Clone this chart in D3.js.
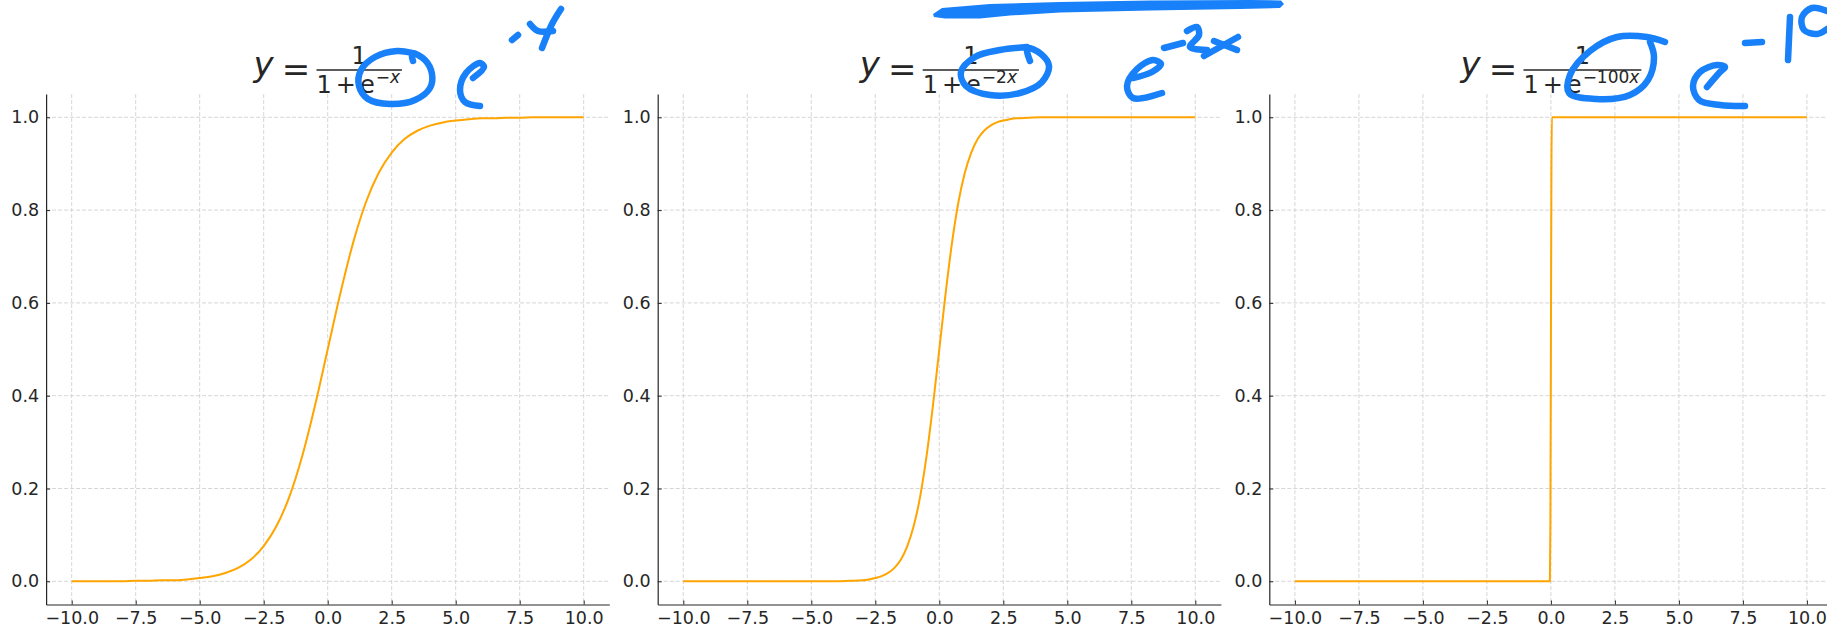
<!DOCTYPE html>
<html>
<head>
<meta charset="utf-8">
<script src="https://cdn.jsdelivr.net/npm/d3@7"></script>
<style>
  body { margin: 0; background: #fff; }
  text { font-family: "DejaVu Sans", sans-serif; }
</style>
</head>
<body>
<div id="chart"></div>
<script>
// points
var xA = [-10,-9.5,-9,-8.5,-8,-7.5,-7,-6.5,-6,-5.5,-5,-4.5,-4,-3.5,-3,-2.5,-2,-1.5,-1,-0.5,0,
          0.5,1,1.5,2,2.5,3,3.5,4,4.5,5,5.5,6,6.5,7,7.5,8,8.5,9,9.5,10];
var yA = [0,0,0,0,0,0.001,0.001,0.002,0.002,0.004,0.007,0.011,0.018,0.029,0.047,0.076,0.119,0.182,0.269,0.378,0.5,
          0.622,0.731,0.818,0.881,0.924,0.953,0.971,0.982,0.989,0.993,0.996,0.998,0.998,0.999,0.999,1,1,1,1,1];

var xB = [-10,-7,-5,-4,-3.5,-3,-2.75,-2.5,-2.25,-2,-1.75,-1.5,-1.25,-1,-0.75,-0.5,-0.25,0,
          0.25,0.5,0.75,1,1.25,1.5,1.75,2,2.25,2.5,2.75,3,3.5,4,5,7,10];
var yB = [0,0,0,0,0.001,0.002,0.004,0.007,0.011,0.018,0.029,0.047,0.076,0.119,0.182,0.269,0.378,0.5,
          0.622,0.731,0.818,0.881,0.924,0.953,0.971,0.982,0.989,0.993,0.996,0.998,0.999,1,1,1,1];

var xC = [-10,-0.04,-0.02,0,0.02,0.04,10];
var yC = [0,0,0.12,0.5,0.88,1,1];

// exponent coefficient shown in each title
var titleCoef = ["", "2", "100"];

var xTicks = [-10,-7.5,-5,-2.5,0,2.5,5,7.5,10];
var yTicks = [0,0.2,0.4,0.6,0.8,1.0];

var width = 1827, height = 630;
var plotTop = 94.1, plotBottom = 604.5;
var panelLeft = [46.1, 657.7, 1269.3], panelW = 563.2;
var lineColor = "#ffa500", inkColor = "#262626", gridColor = "#cccccc", penColor = "#1880f8";

var svg = d3.select("#chart")
  .append("svg")
    .attr("width", width)
    .attr("height", height)
    .style("display", "block");

svg.append("rect").attr("width", width).attr("height", height).attr("fill", "#fff");

var series = [[xA, yA], [xB, yB], [xC, yC]];

var y = d3.scaleLinear().domain([-0.05, 1.05]).range([plotBottom, plotTop]);

series.forEach(function(s, i) {
  var x = d3.scaleLinear().domain([-11, 11]).range([panelLeft[i], panelLeft[i] + panelW]);
  var g = svg.append("g");

  // grid
  g.selectAll(".vgrid")
    .data(xTicks)
    .enter().append("line")
      .attr("x1", function(d) { return x(d); })
      .attr("x2", function(d) { return x(d); })
      .attr("y1", plotTop)
      .attr("y2", plotBottom)
      .attr("stroke", gridColor)
      .attr("stroke-width", 0.8)
      .attr("stroke-dasharray", "4,2");
  g.selectAll(".hgrid")
    .data(yTicks)
    .enter().append("line")
      .attr("x1", panelLeft[i])
      .attr("x2", panelLeft[i] + panelW)
      .attr("y1", function(d) { return y(d); })
      .attr("y2", function(d) { return y(d); })
      .attr("stroke", gridColor)
      .attr("stroke-width", 0.8)
      .attr("stroke-dasharray", "4,2");

  // axes, ticks pointing inward
  var xAxis = g.append("g")
    .attr("transform", "translate(0," + plotBottom + ")")
    .call(d3.axisBottom(x).tickValues(xTicks).tickFormat(d3.format(".1f"))
      .tickSizeInner(-4).tickSizeOuter(0).tickPadding(7));
  var yAxis = g.append("g")
    .attr("transform", "translate(" + panelLeft[i] + ",0)")
    .call(d3.axisLeft(y).tickValues(yTicks).tickFormat(d3.format(".1f"))
      .tickSizeInner(-4).tickSizeOuter(0).tickPadding(7));
  [xAxis, yAxis].forEach(function(a) {
    a.select(".domain").attr("stroke", inkColor).attr("stroke-width", 1.2);
    a.selectAll(".tick line").attr("stroke", inkColor);
    a.selectAll(".tick text")
      .attr("fill", inkColor)
      .style("font-size", "17.5px")
      .style("font-family", "'DejaVu Sans', sans-serif");
  });

  // curve
  var pts = s[0].map(function(d, k) { return [d, s[1][k]]; });
  g.append("path")
    .datum(pts)
    .attr("fill", "none")
    .attr("stroke", lineColor)
    .attr("stroke-width", 2)
    .attr("d", d3.line()
      .x(function(d) { return x(d[0]); })
      .y(function(d) { return y(d[1]); })
      .curve(d3.curveMonotoneX));

  drawTitle(x(0), titleCoef[i]);
});

function drawTitle(cx, coef) {
  var t = svg.append("g").attr("fill", "#262626");
  t.append("text").attr("x", 0).attr("y", 75.5)
    .style("font-size", "34px").style("font-style", "italic").text("y");
  t.append("text").attr("x", 28.3).attr("y", 80.5)
    .style("font-size", "34px").text("=");

  var barX = 63;
  var den = t.append("text").attr("x", barX).attr("y", 93).style("font-size", "24px");
  den.append("tspan").text("1");
  den.append("tspan").attr("dx", 4).text("+");
  den.append("tspan").attr("dx", 4).text("e");
  den.append("tspan").attr("dx", 1).attr("dy", -10).style("font-size", "17px").text("\u2212" + coef);
  den.append("tspan").style("font-size", "17px").style("font-style", "italic").text("x");
  var bb = den.node().getBBox();
  var barW = bb.x + bb.width - barX + 1;

  t.append("line")
    .attr("x1", barX).attr("x2", barX + barW)
    .attr("y1", 70).attr("y2", 70)
    .attr("stroke", "#262626").attr("stroke-width", 1.6);
  t.append("text").attr("x", barX + barW / 2).attr("y", 64)
    .attr("text-anchor", "middle").style("font-size", "24px").text("1");

  var w = barX + barW;
  t.attr("transform", "translate(" + (cx - w / 2) + ",0)");
}

// hand-drawn pen marks over the figure
var scribbles = [
  // panel 1
  [[412,53],[397,51],[375,57],[361,70],[359,86],[368,99],[390,104],[415,100],[430,88],[432,74],[425,60],[412,53],[413,61]],
  [[473,78],[484,67],[480,63],[466,73],[460,90],[465,102],[480,106]],
  [[512,40],[518,35]],
  [[561,9],[552,24],[542,48]],
  [[530,24],[538,31],[553,31]],
  // panel 2
  [[1027,47],[1000,50],[975,57],[961,72],[966,86],[990,95],[1020,93],[1042,82],[1049,66],[1041,54],[1027,48],[1030,61]],
  [[1133,78],[1152,72],[1161,64],[1153,60],[1137,69],[1127,86],[1133,98],[1162,93]],
  [[1164,48],[1183,43]],
  [[1187,31],[1197,27],[1199,35],[1190,47],[1207,50]],
  [[1204,56],[1238,37]],
  [[1214,41],[1237,50]],
  // panel 3
  [[1665,42],[1647,37],[1617,37],[1590,51],[1570,75],[1569,93],[1596,99],[1630,95],[1648,80],[1654,57],[1650,42]],
  [[1707,87],[1720,72],[1725,67],[1717,65],[1700,72],[1693,86],[1699,100],[1720,105],[1745,106]],
  [[1745,43],[1762,42]],
  [[1790,17],[1788,60]],
  [[1827,11],[1812,8],[1802,17],[1804,30],[1817,34],[1827,29]]
];
var pen = d3.line().curve(d3.curveCatmullRom.alpha(0.5));
svg.append("g").selectAll("path")
  .data(scribbles)
  .enter().append("path")
    .attr("d", pen)
    .attr("fill", "none")
    .attr("stroke", penColor)
    .attr("stroke-width", 6.5)
    .attr("stroke-linecap", "round")
    .attr("stroke-linejoin", "round");

// the thick marker stroke at the top
var band = [[933,14],[942,8],[990,4],[1060,2],[1150,0.5],[1250,0],[1281,0.5],[1284,4],[1280,8],
            [1240,9],[1150,10.5],[1060,12.5],[1010,15.5],[980,18.5],[945,18.5],[934,17]];
svg.append("path")
  .attr("d", d3.line().curve(d3.curveLinearClosed)(band))
  .attr("fill", penColor);
</script>
</body>
</html>
